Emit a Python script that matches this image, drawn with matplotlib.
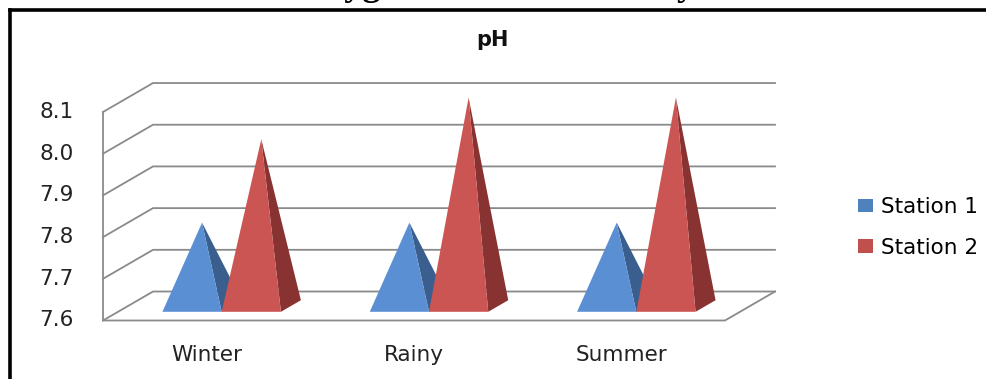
import matplotlib.pyplot as plt
from matplotlib.patches import Polygon, Patch
from matplotlib.lines import Line2D

categories = ['Winter', 'Rainy', 'Summer']
station1 = [7.8, 7.8, 7.8]
station2 = [8.0, 8.1, 8.1]
yticks = [7.6, 7.7, 7.8, 7.9, 8.0, 8.1]
series_names = ['Station 1', 'Station 2']

# front face / shaded side / legend swatch
colors = [('#5b8fd3', '#3a5f8e', '#4f81bd'),
          ('#cb5552', '#883331', '#c0504d')]

# oblique depth offset, in data units, for z going 0 -> 1
DU = 0.2412
DV = 0.0695
ymin = yticks[0]
ymax = yticks[-1]
ncat = len(categories)
bar_w = 1 / 3.5  # gap width 150%


def proj(u, v, z):
    return (u + z * DU, v + z * DV)


fig = plt.figure(figsize=(9.86, 3.79), dpi=100)
ax = fig.add_axes([0, 0, 1, 1])
ax.set_xlim(-0.4968, 4.2589)
ax.set_ylim(7.4597, 8.3686)
ax.axis('off')

grid_kw = dict(color='#8a8a8a', lw=1.3, solid_joinstyle='miter', zorder=1)

# walls: diagonal on the side wall, then across the back wall
for v in yticks:
    pts = [proj(0, v, 0), proj(0, v, 1), proj(ncat, v, 1)]
    ax.plot([p[0] for p in pts], [p[1] for p in pts], **grid_kw)
# floor and the front of the value axis
floor = [proj(0, ymin, 0), proj(ncat, ymin, 0), proj(ncat, ymin, 1)]
ax.plot([p[0] for p in floor], [p[1] for p in floor], **grid_kw)
ax.plot([0, 0], [ymin, ymax], **grid_kw)

for v in yticks:
    ax.text(-0.14, v, f'{v:.1f}', ha='right', va='center', fontsize=15.5,
            color='#222222')

for i, name in enumerate(categories):
    ax.text(i + 0.5, ymin - 0.083, name, ha='center', va='center',
            fontsize=15.5, color='#222222')

# pyramids, square base from z=0.3 to z=0.7, apex over its centre
for i in range(ncat):
    for s, vals in enumerate([station1, station2]):
        left = i + 0.5 - bar_w + s * bar_w
        right = left + bar_w
        apex = proj(left + bar_w / 2, vals[i], 0.5)
        fl = proj(left, ymin, 0.3)
        fr = proj(right, ymin, 0.3)
        br = proj(right, ymin, 0.7)
        ax.add_patch(Polygon([fr, br, apex], closed=True, facecolor=colors[s][1],
                             edgecolor='none', zorder=3))
        ax.add_patch(Polygon([fl, fr, apex], closed=True, facecolor=colors[s][0],
                             edgecolor='none', zorder=3))

ax.text(1.88, 8.272, 'pH', ha='center', va='center', fontsize=15,
        fontweight='bold', color='#111111')

handles = [Patch(facecolor=c[2], edgecolor='none') for c in colors]
ax.legend(handles, series_names, loc='center left', bbox_to_anchor=(0.861, 0.40),
          frameon=False, fontsize=15.5, handlelength=0.7, handleheight=0.6,
          handletextpad=0.4, labelspacing=0.97, borderaxespad=0)

# caption line above the framed chart
fig.text(0.504, 1.012, 'Oxygen of the water body', ha='center', va='baseline',
         fontsize=26, fontweight='bold', family='Liberation Serif')

# chart frame
fig.add_artist(Line2D([9.5 / 986, 9.5 / 986], [-0.1, 1 - 9.5 / 379], color='black', lw=2.6))
fig.add_artist(Line2D([9.5 / 986, 1.1], [1 - 9.5 / 379, 1 - 9.5 / 379], color='black', lw=2.6))

fig.savefig('out.png', dpi=100)
